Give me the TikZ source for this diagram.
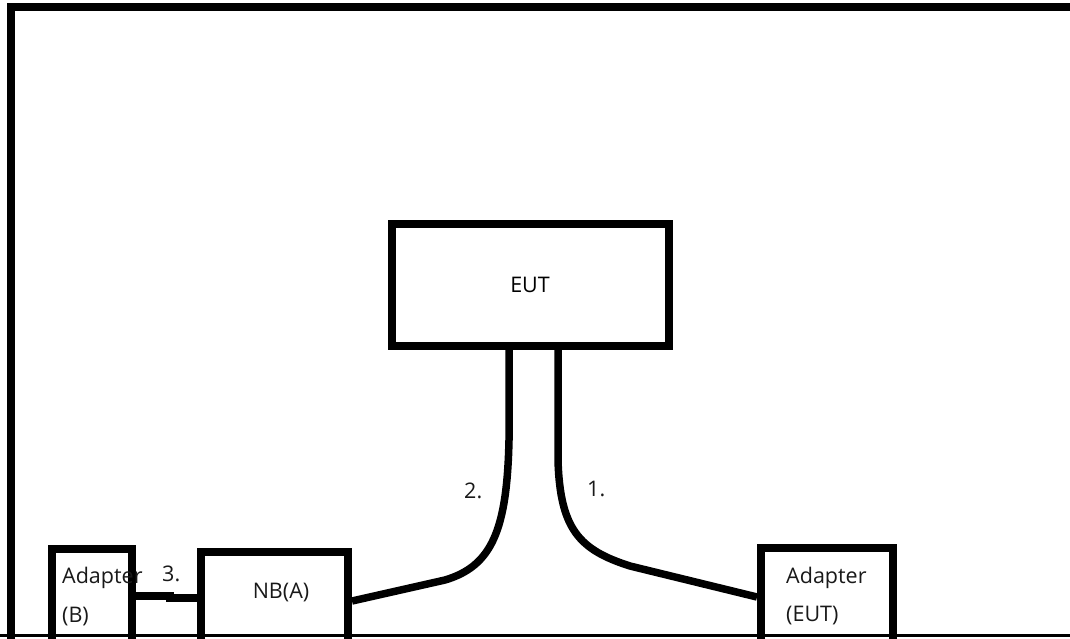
\documentclass[tikz,border=0pt]{standalone}
\usepackage{fontspec}
\setmainfont{Open Sans}
\begin{document}
\begin{tikzpicture}[x=1pt,y=-1pt,
  box/.style={draw=black, line width=8pt, inner sep=0pt, fill=white},
  wire/.style={draw=black, line width=7.5pt},
  lbl/.style={inner sep=0pt, anchor=base west, font=\fontsize{21.5}{25}\selectfont, text=black!90}]
\useasboundingbox (0,0) rectangle (1070,638);
\clip (0,0) rectangle (1070,638);
\fill[white] (0,0) rectangle (1070,638);
% outer frame
\draw[line width=8pt] (11,660) -- (11,7) -- (1080,7);
% boxes
\node[box, minimum width=277pt, minimum height=122pt, font=\fontsize{21.5}{25}\selectfont] (eut) at (530,285) {EUT};
\node[box, minimum width=80pt, minimum height=101pt] (adb) at (92,599.5) {};
\node[box, minimum width=147pt, minimum height=98pt] (nb) at (274.5,601) {};
\node[box, minimum width=132pt, minimum height=102pt] (ade) at (827,599) {};
% texts
\node[lbl] (t1) at (62,583) {Adapter};
\node[lbl] (t2) at (62,622) {(B)};
\node[lbl] (t3) at (162,581) {3.};
\node[lbl, anchor=base] (t4) at (281,598) {NB(A)};
\node[lbl] (t5) at (786,583) {Adapter};
\node[lbl] (t6) at (786,621) {(EUT)};
\node[lbl] (t7) at (464,498) {2.};
\node[lbl] (t8) at (587,496) {1.};
% wires
\coordinate (c2) at (509,440);
\coordinate (c1) at (558,460);
\draw[wire] ([xshift=-21pt]eut.south) -- (c2) .. controls (507,530) and (492,566) .. (445,580) -- (nb.east);
\draw[wire] ([xshift=28pt]eut.south) -- (c1) .. controls (560,530) and (580,550) .. (630,566) -- ([yshift=2pt]ade.west);
\coordinate (k) at (170,596);
\draw[wire] ([yshift=3.5pt]adb.east) -- (k) -- ++(0,2) -- ([yshift=3pt]nb.west);
% bottom line
\draw[line width=3pt] (-5,635.5) -- (1080,635.5);
\end{tikzpicture}
\end{document}
